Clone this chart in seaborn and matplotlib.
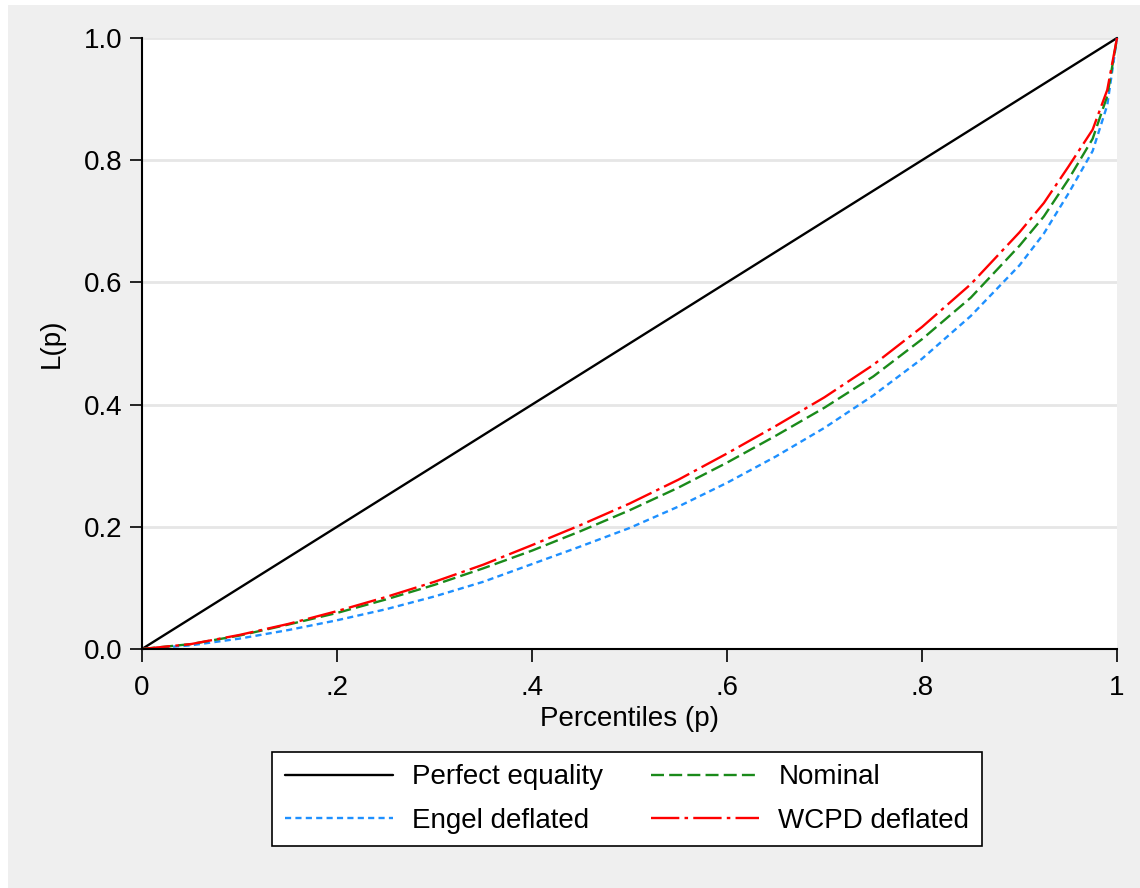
import numpy as np
import pandas as pd
import matplotlib
matplotlib.use("Agg")
import matplotlib.pyplot as plt
from matplotlib.patches import Rectangle
import seaborn as sns

# Lorenz curve values
p_equal = [0.0, 1.0]
L_equal = [0.0, 1.0]

p_grid = [0, .05, .1, .15, .2, .25, .3, .35, .4, .45, .5, .55, .6, .65,
          .7, .75, .8, .85, .9, .925, .95, .975, .99, 1]
L_nominal = [0, .008, .022, .040, .059, .081, .105, .132, .161, .193, .227,
             .264, .305, .349, .395, .446, .507, .575, .660, .708, .768,
             .835, .905, 1.0]
L_engel = [0, .006, .017, .031, .047, .065, .086, .110, .139, .168, .198,
           .233, .272, .315, .362, .415, .475, .545, .628, .680, .745,
           .815, .890, 1.0]
L_wcpd = [0, .008, .023, .041, .062, .085, .110, .138, .170, .203, .238,
          .277, .320, .365, .412, .465, .527, .597, .682, .730, .789,
          .850, .915, 1.0]

series_order = ["Perfect equality", "Engel deflated", "Nominal", "WCPD deflated"]
colors = {"Perfect equality": "black", "Engel deflated": "#1e90ff",
          "Nominal": "#1a8a1a", "WCPD deflated": "red"}
dash_styles = {"Perfect equality": "", "Engel deflated": (2.6, 1.8),
               "Nominal": (5.5, 2.2), "WCPD deflated": (12, 2.2, 1.5, 2.2)}

frames = [pd.DataFrame({"p": p_equal, "L": L_equal, "series": "Perfect equality"}),
          pd.DataFrame({"p": p_grid, "L": L_engel, "series": "Engel deflated"}),
          pd.DataFrame({"p": p_grid, "L": L_nominal, "series": "Nominal"}),
          pd.DataFrame({"p": p_grid, "L": L_wcpd, "series": "WCPD deflated"})]
df = pd.concat(frames, ignore_index=True)

sns.set_style("white")
plt.rcParams["font.family"] = ["Liberation Sans", "DejaVu Sans"]
plt.rcParams["font.size"] = 20
for key in ["text.color", "axes.labelcolor", "xtick.color", "ytick.color"]:
    plt.rcParams[key] = "black"

bg = "#efefef"
fig = plt.figure(figsize=(11.4, 8.88), dpi=100, facecolor="white")
fig.patches.append(Rectangle((8 / 1140, 0), 1, 1 - 5 / 888, transform=fig.transFigure,
                             facecolor=bg, edgecolor="none", zorder=-10))
ax = fig.add_axes([142 / 1140, 1 - 649 / 888, (1117 - 142) / 1140, (649 - 38) / 888])
ax.set_facecolor("white")

sns.lineplot(data=df, x="p", y="L", hue="series", style="series",
             hue_order=series_order, style_order=series_order,
             palette=colors, dashes=dash_styles, sort=False, estimator=None,
             linewidth=1.7, ax=ax)

ax.set_xlim(0, 1)
ax.set_ylim(0, 1)
ax.set_xticks([0, .2, .4, .6, .8, 1])
ax.set_xticklabels(["0", ".2", ".4", ".6", ".8", "1"])
ax.set_yticks([0, .2, .4, .6, .8, 1])
ax.set_yticklabels(["0.0", "0.2", "0.4", "0.6", "0.8", "1.0"])
ax.yaxis.grid(True, color="#e6e6e6", linewidth=2)
ax.set_axisbelow(True)
for s in ["top", "right"]:
    ax.spines[s].set_visible(False)
for s in ["left", "bottom"]:
    ax.spines[s].set_color("black")
    ax.spines[s].set_linewidth(1.5)
ax.tick_params(axis="both", direction="out", length=9, width=1.2, color="black",
               labelsize=20, labelcolor="black", bottom=True, left=True)
ax.tick_params(axis="x", pad=10)
ax.tick_params(axis="y", pad=5)
ax.set_xlabel("Percentiles (p)", fontsize=20, labelpad=3, color="black")
ax.set_ylabel("L(p)", fontsize=20, labelpad=14, color="black")
for line in ax.lines:
    line.set_clip_on(False)

handles, labels = ax.get_legend_handles_labels()
ax.get_legend().remove()
leg = fig.legend(handles, labels, loc="center", bbox_to_anchor=(627 / 1140, 1 - 799 / 888),
                 ncol=2, fontsize=20, frameon=True, fancybox=False, framealpha=1,
                 edgecolor="black", handlelength=3.9, handletextpad=0.7,
                 columnspacing=1.7, labelspacing=0.62, borderpad=0.45)
leg.get_frame().set_linewidth(1.2)
for h in leg.get_lines():
    h.set_linewidth(1.7)
for t in leg.get_texts():
    t.set_color("black")

fig.savefig("out.png", dpi=100, facecolor=fig.get_facecolor())
